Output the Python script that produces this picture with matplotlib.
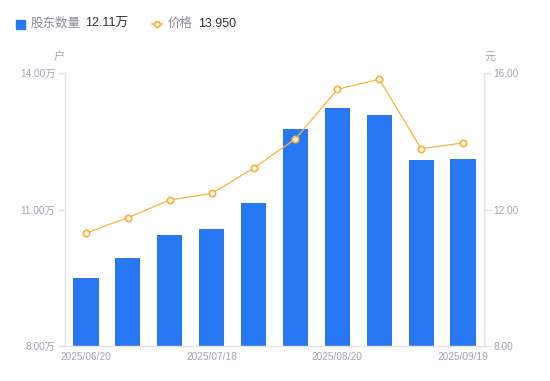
import matplotlib
matplotlib.use('Agg')
import matplotlib.pyplot as plt
from matplotlib.lines import Line2D
import numpy as np

plt.rcParams['font.family'] = ['Liberation Sans', 'Noto Sans CJK SC', 'DejaVu Sans']

# data
dates = ['2025/06/20', '2025/06/30', '2025/07/10', '2025/07/18', '2025/07/31',
         '2025/08/10', '2025/08/20', '2025/08/31', '2025/09/10', '2025/09/19']
holders = [9.49, 9.93, 10.43, 10.57, 11.14, 12.76, 13.24, 13.07, 12.08, 12.11]  # 万户
price = [11.31, 11.76, 12.28, 12.47, 13.21, 14.07, 15.52, 15.82, 13.78, 13.95]  # 元
left_ticks = [8, 11, 14]
right_ticks = [8, 12, 16]

blue = '#2878f4'
orange = '#fbb23c'
gray = '#a3a3b3'
axis_gray = '#e3e3e8'

W, H = 550, 381
fig = plt.figure(figsize=(W / 100, H / 100), dpi=100)
ax = fig.add_axes([65 / W, (H - 346) / H, 419 / W, 273 / H])
ax2 = ax.twinx()

x = np.arange(len(dates))
ax.bar(x, holders, width=0.6, color=blue, zorder=2)
ax.set_xlim(-0.5, len(dates) - 0.5)
ax.set_ylim(8, 14)
ax.set_yticks(left_ticks)
ax.set_yticklabels([f'{v:.2f}万' for v in left_ticks])
ax.set_xticks(x[::3])
ax.set_xticklabels([dates[i] for i in x[::3]])

ax2.plot(x, price, color=orange, lw=0.9, marker='o', ms=4.5, mfc='white',
         mec=orange, mew=1.3, zorder=3)
ax2.set_ylim(8, 16)
ax2.set_yticks(right_ticks)
ax2.set_yticklabels([f'{v:.2f}' for v in right_ticks])

for a in (ax, ax2):
    a.spines['top'].set_visible(False)
    for s in ('left', 'right', 'bottom'):
        a.spines[s].set_color(axis_gray)
        a.spines[s].set_linewidth(1)
    a.tick_params(axis='y', colors=axis_gray, labelcolor=gray, labelsize=7.3,
                  length=5, width=1, pad=2)
ax.tick_params(axis='x', length=0, labelcolor=gray, labelsize=7.3, pad=4)
ax.spines['right'].set_visible(False)
ax2.spines['left'].set_visible(False)
ax2.spines['bottom'].set_visible(False)

# axis unit labels
fig.text(59 / W, 1 - 57 / H, '户', color=gray, fontsize=8, ha='center', va='center')
fig.text(490 / W, 1 - 57 / H, '元', color=gray, fontsize=8, ha='center', va='center')

# custom legend row
ly = 1 - 24 / H
fig.patches.append(plt.Rectangle((16 / W, 1 - 29 / H), 9 / W, 9 / H, color=blue,
                                 transform=fig.transFigure, figure=fig))
fig.text(31 / W, ly, '股东数量', color='#8c8c9a', fontsize=9, va='center')
fig.text(85 / W, ly, f'{holders[-1]:.2f}万', color='#333333', fontsize=9, va='center')
fig.lines.append(Line2D([152 / W, 162 / W], [ly, ly], color=orange, lw=1.2,
                        transform=fig.transFigure, figure=fig))
fig.lines.append(Line2D([157 / W], [ly], color=orange, marker='o', ms=4, mfc='white',
                        mew=1.3, transform=fig.transFigure, figure=fig))
fig.text(168 / W, ly, '价格', color='#8c8c9a', fontsize=9, va='center')
fig.text(198 / W, ly, f'{price[-1]:.3f}', color='#333333', fontsize=9, va='center')

fig.savefig('out.png', dpi=100)
